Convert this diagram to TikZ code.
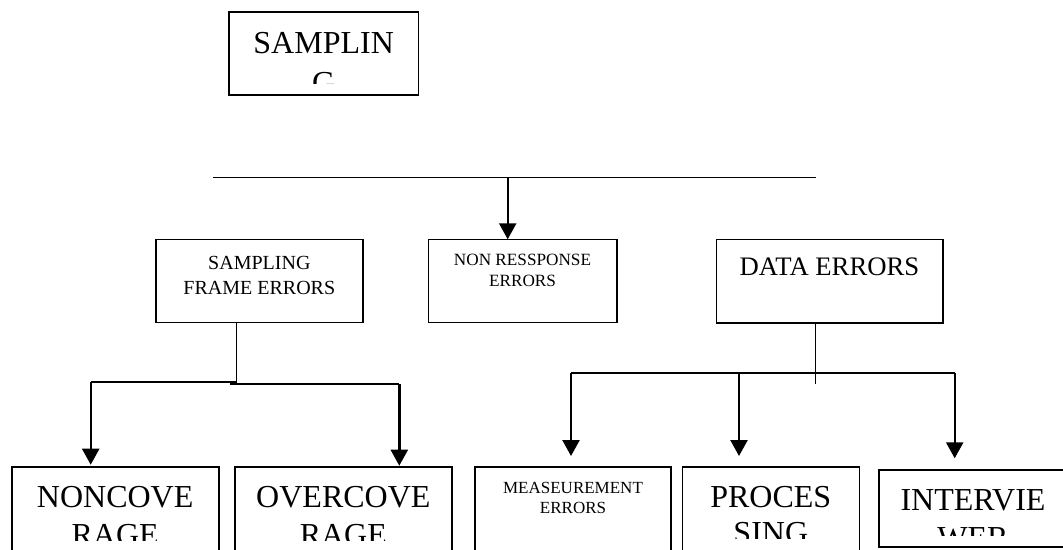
\documentclass[tikz,border=0pt]{standalone}
\usepackage{fontspec}
\setmainfont{Liberation Serif}
\usetikzlibrary{arrows.meta, positioning, calc}
\tikzset {
  box/.style = {draw, line width=1.6pt, rectangle, inner sep=0pt, outer sep=0pt, anchor=north west},
  txt/.style = {anchor=north, align=center, inner sep=0pt},
  bigtext/.style = {txt, font=\fontsize{32}{38}\selectfont},
  midtext/.style = {txt, font=\fontsize{26.7}{32}\selectfont},
  smalltext/.style = {txt, font=\fontsize{20}{25}\selectfont},
  tinytext/.style = {txt, font=\fontsize{17.2}{21}\selectfont},
  line/.style = {line width=1.5pt},
  link/.style = {line width=2pt},
  arrow/.style = {-{Triangle[width=17pt, length=16pt]}, line width=2.4pt}
}

\begin{document}
\begin{tikzpicture}[x=1pt, y=-1pt]
    \useasboundingbox (0,0) rectangle (1063,549);
    \clip (0,0) rectangle (1063,549);

    % boxes
    \node[box, minimum width=189.3, minimum height=83.3] (sampling) at (229,11.7) {};
    \node[box, minimum width=206.7, minimum height=83] (sframe) at (156,239.3) {};
    \node[box, minimum width=188.4, minimum height=83] (nonresp) at (428.3,239.3) {};
    \node[box, minimum width=226.4, minimum height=83.4] (dataerr) at (716.3,239.3) {};
    \node[box, minimum width=207, minimum height=84] (noncov) at (11.7,466.7) {};
    \node[box, minimum width=216.7, minimum height=84] (overcov) at (235,466.7) {};
    \node[box, minimum width=196, minimum height=84] (measure) at (475,466.7) {};
    \node[box, minimum width=177, minimum height=84] (process) at (682.3,466.7) {};
    \node[box, minimum width=188, minimum height=76.7] (interv) at (879,470) {};

    % texts (some are cut off by their box)
    \begin{scope}
      \clip (sampling.north west) rectangle (sampling.east |- 0,83.3);
      \node[bigtext, font=\fontsize{32}{40}\selectfont] (samplingtxt) at ($(sampling.north)+(0,20)$) {SAMPLIN\\G};
    \end{scope}
    \node[smalltext] (sframetxt) at ($(sframe.north)+(0,16.7)$) {SAMPLING\\FRAME ERRORS};
    \node[tinytext] (nonresptxt) at ($(nonresp.north)+(0,15)$) {NON RESSPONSE\\ERRORS};
    \node[midtext] (dataerrtxt) at ($(dataerr.north)+(0,18.4)$) {DATA ERRORS};
    \begin{scope}
      \clip (noncov.north west) rectangle (overcov.east |- 0,540);
      \node[bigtext] (noncovtxt) at ($(noncov.north)+(0,19)$) {NONCOVE\\RAGE};
      \node[bigtext] (overcovtxt) at ($(overcov.north)+(0,19)$) {OVERCOVE\\RAGE};
    \end{scope}
    \node[tinytext, font=\fontsize{17}{20}\selectfont] (measuretxt) at ($(measure.north)+(0,15)$) {MEASEUREMENT\\ERRORS};
    \begin{scope}
      \clip (process.north west) rectangle (process.east |- 0,538.3);
      \node[bigtext, font=\fontsize{32}{36}\selectfont] (processtxt) at ($(process.north)+(0,19)$) {PROCES\\SING};
    \end{scope}
    \begin{scope}
      \clip (interv.north west) rectangle (interv.east |- 0,535);
      \node[bigtext] (intervtxt) at ($(interv.north)+(0,19)$) {INTERVIE\\WER};
    \end{scope}

    % top bar
    \coordinate (bar-l) at (213,177.3);
    \coordinate (bar-r) at (816.3,177.3);
    \coordinate (bar-m) at (507.7,177.3);
    \draw[line] (bar-l) -- (bar-r);
    \draw[arrow] (bar-m) -- (bar-m |- nonresp.north);

    % sampling frame errors branch
    \coordinate (sf-j) at (236.7,383.3);
    \coordinate (nc-top) at (90.7,381.7);
    \coordinate (oc-start) at (230,384);
    \coordinate (oc-top) at (399.3,384);
    \draw[line] (sframe.south -| sf-j) -- (sf-j);
    \draw[link] (sf-j |- nc-top) -- (nc-top);
    \draw[link] (oc-start) -- (oc-top);
    \draw[arrow, shorten >=2pt] (nc-top) -- (nc-top |- noncov.north);
    \draw[arrow, shorten >=1pt] (oc-top) -- (oc-top |- overcov.north);

    % data errors branch
    \coordinate (de-j) at (815.7,384.3);
    \coordinate (de-l) at (571,373.3);
    \coordinate (de-m) at (739,373.3);
    \coordinate (de-r) at (954.7,373.3);
    \draw[line] (dataerr.south -| de-j) -- (de-j);
    \draw[link] (de-l) -- (de-r);
    \draw[arrow, shorten >=10.7pt] (de-l) -- (de-l |- measure.north);
    \draw[arrow, shorten >=10.7pt] (de-m) -- (de-m |- process.north);
    \draw[arrow, shorten >=11.7pt] (de-r) -- (de-r |- interv.north);

\end{tikzpicture}
\end{document}
